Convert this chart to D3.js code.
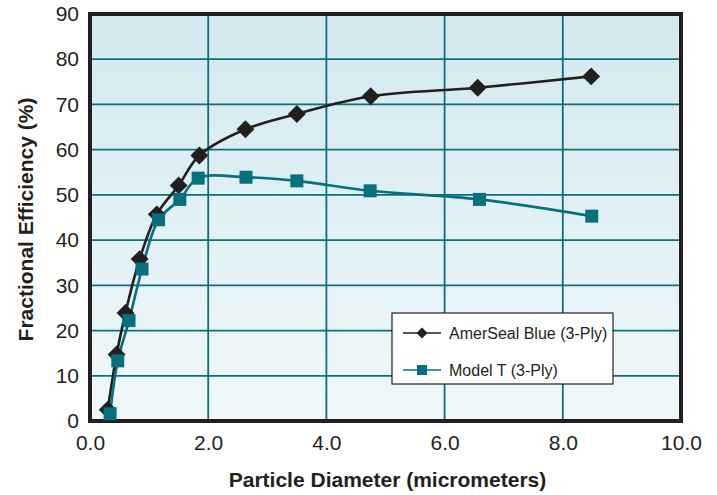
<!DOCTYPE html>
<html>
<head>
<meta charset="utf-8">
<script src="https://cdn.jsdelivr.net/npm/d3@7"></script>
<style>
  body { margin: 0; background: #fff; }
  text { font-family: "Liberation Sans", Arial, sans-serif; }
</style>
</head>
<body>
<svg id="chart" width="717" height="495"></svg>
<script>
// Data
const amerSealX = [0.30, 0.45, 0.60, 0.84, 1.13, 1.50, 1.85, 2.63, 3.50, 4.75, 6.56, 8.48];
const amerSealY = [2.5, 14.7, 23.9, 35.8, 45.7, 52.1, 58.7, 64.5, 67.9, 71.8, 73.7, 76.2];
const modelTX = [0.34, 0.47, 0.66, 0.88, 1.16, 1.52, 1.83, 2.64, 3.50, 4.74, 6.59, 8.49];
const modelTY = [1.6, 13.3, 22.2, 33.6, 44.5, 49.0, 53.7, 53.9, 53.1, 50.9, 49.0, 45.3];
const xTicks = [0, 2, 4, 6, 8, 10];
const yTicks = [0, 10, 20, 30, 40, 50, 60, 70, 80, 90];
const seriesNames = ['AmerSeal Blue (3-Ply)', 'Model T (3-Ply)'];

const svg = d3.select('#chart');
const margin = { left: 90, top: 14, right: 36, bottom: 74 };
const width = 717 - margin.left - margin.right;
const height = 495 - margin.top - margin.bottom;

const x = d3.scaleLinear().domain([0, 10]).range([0, width]);
const y = d3.scaleLinear().domain([0, 90]).range([height, 0]);

const defs = svg.append('defs');
const grad = defs.append('linearGradient')
  .attr('id', 'bg').attr('x1', 0).attr('y1', 0).attr('x2', 0).attr('y2', 1);
grad.append('stop').attr('offset', '0%').attr('stop-color', '#d2e9ee');
grad.append('stop').attr('offset', '100%').attr('stop-color', '#f0f8fa');

const g = svg.append('g').attr('transform', `translate(${margin.left},${margin.top})`);

g.append('rect')
  .attr('width', width).attr('height', height)
  .attr('fill', 'url(#bg)');

// grid
const gridColor = '#0c6f7d';
g.selectAll('.vgrid').data(xTicks.slice(1, -1)).enter().append('line')
  .attr('x1', d => x(d)).attr('x2', d => x(d))
  .attr('y1', 0).attr('y2', height)
  .attr('stroke', gridColor).attr('stroke-width', 1.8);
g.selectAll('.hgrid').data(yTicks.slice(1, -1)).enter().append('line')
  .attr('y1', d => y(d)).attr('y2', d => y(d))
  .attr('x1', 0).attr('x2', width)
  .attr('stroke', gridColor).attr('stroke-width', 1.8);

// frame
g.append('rect')
  .attr('width', width).attr('height', height)
  .attr('fill', 'none').attr('stroke', '#231f20').attr('stroke-width', 4);

// axes
const xAxis = g.append('g')
  .attr('transform', `translate(0,${height})`)
  .call(d3.axisBottom(x).tickValues(xTicks).tickFormat(d3.format('.1f')).tickSize(0).tickPadding(14));
const yAxis = g.append('g')
  .call(d3.axisLeft(y).tickValues(yTicks).tickSize(0).tickPadding(11));
[xAxis, yAxis].forEach(a => {
  a.select('.domain').remove();
  a.selectAll('text')
    .attr('font-family', '"Liberation Sans", Arial, sans-serif')
    .attr('font-size', 21).attr('fill', '#231f20');
});

svg.append('text')
  .attr('x', margin.left + width / 2 + 2).attr('y', 487)
  .attr('text-anchor', 'middle')
  .attr('font-size', 21).attr('font-weight', 'bold').attr('fill', '#231f20')
  .text('Particle Diameter (micrometers)');
svg.append('text')
  .attr('transform', `translate(33,${margin.top + height / 2 + 2}) rotate(-90)`)
  .attr('text-anchor', 'middle')
  .attr('font-size', 21).attr('font-weight', 'bold').attr('fill', '#231f20')
  .text('Fractional Efficiency (%)');

// series
const line = d3.line()
  .x(d => x(d[0])).y(d => y(d[1]))
  .curve(d3.curveCatmullRom.alpha(0.5));

const amer = amerSealX.map((v, i) => [v, amerSealY[i]]);
const model = modelTX.map((v, i) => [v, modelTY[i]]);
const blackC = '#231f20';
const tealC = '#07707d';

g.append('path').datum(amer).attr('d', line)
  .attr('fill', 'none').attr('stroke', blackC).attr('stroke-width', 2.6);
g.append('path').datum(model).attr('d', line)
  .attr('fill', 'none').attr('stroke', tealC).attr('stroke-width', 2.6);

const diamond = d3.symbol().type(d3.symbolSquare).size(160);
g.selectAll('.dia').data(amer).enter().append('path')
  .attr('d', diamond)
  .attr('transform', d => `translate(${x(d[0])},${y(d[1])}) rotate(45)`)
  .attr('fill', blackC);
g.selectAll('.sq').data(model).enter().append('rect')
  .attr('x', d => x(d[0]) - 6.5).attr('y', d => y(d[1]) - 6.5)
  .attr('width', 13).attr('height', 13)
  .attr('fill', tealC);

// legend
const lg = svg.append('g').attr('transform', 'translate(392,313)');
lg.append('rect').attr('width', 221).attr('height', 71)
  .attr('fill', '#fff').attr('stroke', '#231f20').attr('stroke-width', 1.2);
const rows = [
  { name: seriesNames[0], color: blackC, shape: 'diamond', yy: 20 },
  { name: seriesNames[1], color: tealC, shape: 'square', yy: 57 }
];
rows.forEach(r => {
  lg.append('line').attr('x1', 11).attr('x2', 49).attr('y1', r.yy).attr('y2', r.yy)
    .attr('stroke', r.color).attr('stroke-width', 1.5);
  if (r.shape === 'diamond') {
    lg.append('path').attr('d', d3.symbol().type(d3.symbolSquare).size(60))
      .attr('transform', `translate(30,${r.yy}) rotate(45)`).attr('fill', r.color);
  } else {
    lg.append('rect').attr('x', 25).attr('y', r.yy - 5).attr('width', 10).attr('height', 10)
      .attr('fill', r.color);
  }
  lg.append('text').attr('x', 57).attr('y', r.yy + 6)
    .attr('font-size', 16).attr('fill', '#231f20').text(r.name);
});
</script>
</body>
</html>
